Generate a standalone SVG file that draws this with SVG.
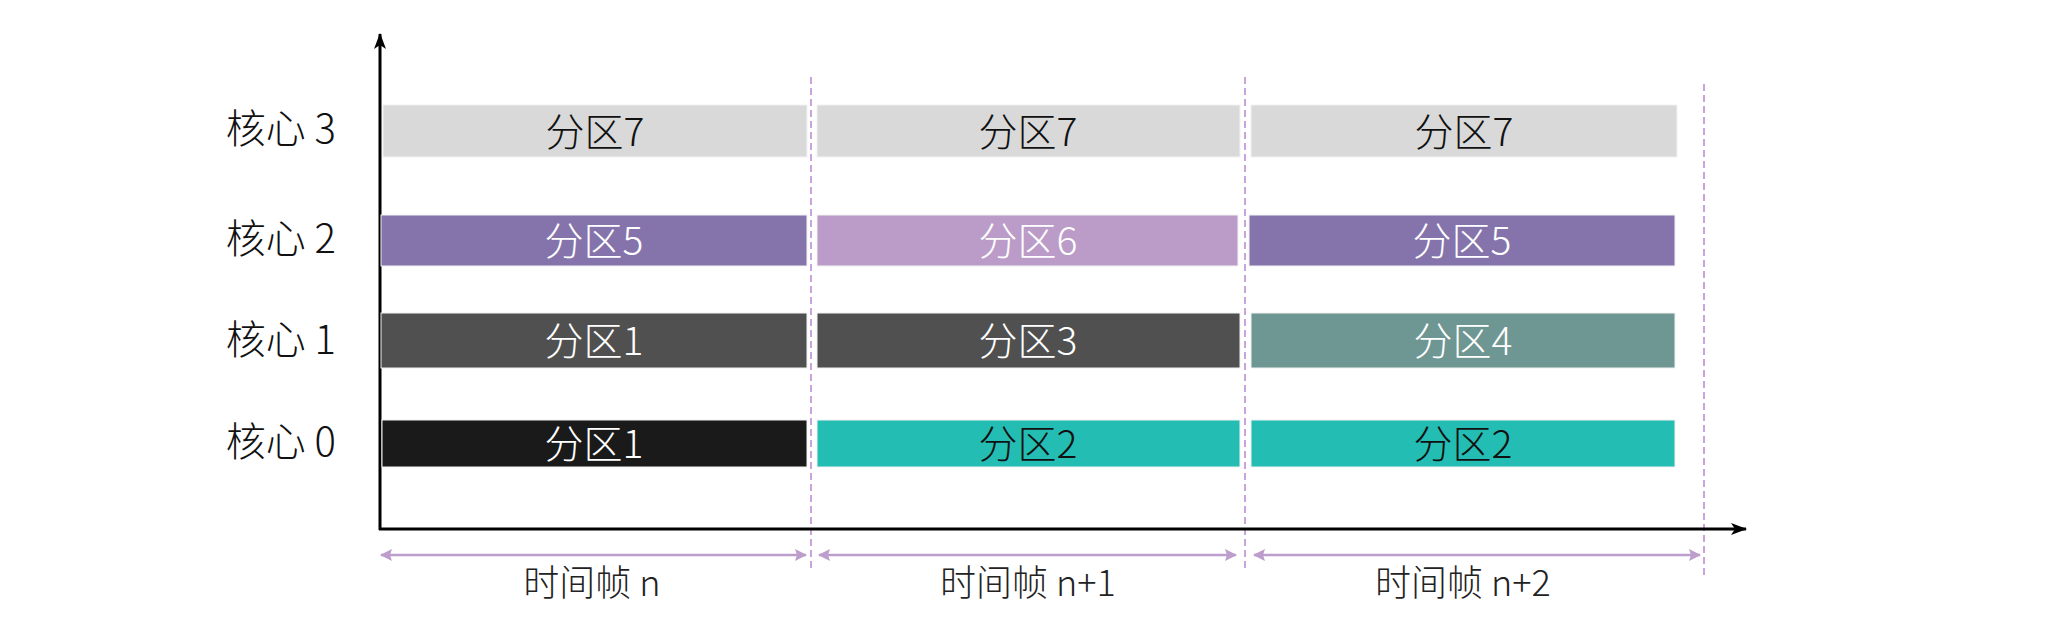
<svg xmlns="http://www.w3.org/2000/svg" width="2062" height="632" viewBox="0 0 2062 632">
<defs>
<style>
text{font-family:"Noto Sans CJK SC","Noto Sans",sans-serif;font-weight:300}
.lbl{font-size:40px;fill:#111;text-anchor:end;dominant-baseline:central}
.bt{font-size:39px;text-anchor:middle;dominant-baseline:central}
.tl{font-size:36px;fill:#222;text-anchor:middle;dominant-baseline:central}
.dk{fill:#fff}.lt{fill:#111}
.bar{stroke:#f2f2f2;stroke-width:1}
.axis{stroke:#000;stroke-width:3;fill:none}
.dash{stroke:#C9A3DB;stroke-width:2;stroke-dasharray:7 4;fill:none}
.span{stroke:#BC9DCB;stroke-width:2.5;fill:none}
</style>
<marker id="ah" viewBox="0 0 16 12" refX="15" refY="6" markerWidth="16" markerHeight="12" markerUnits="userSpaceOnUse" orient="auto">
<path d="M0,0 L16,6 L0,12 L4,6 Z" fill="#000"/>
</marker>
<marker id="pa" viewBox="0 0 12 12" refX="11" refY="6" markerWidth="12" markerHeight="12" markerUnits="userSpaceOnUse" orient="auto-start-reverse">
<path d="M0,0 L12,6 L0,12 L2,6 Z" fill="#BC9DCB"/>
</marker>
</defs>
<rect width="2062" height="632" fill="#fff"/>
<g id="connectors">
<line class="dash" x1="811" y1="77" x2="811" y2="571"/>
<line class="dash" x1="1245" y1="77" x2="1245" y2="571"/>
<line class="dash" x1="1704" y1="84" x2="1704" y2="578"/>
<line class="axis" x1="380" y1="530" x2="380" y2="34" marker-end="url(#ah)"/>
<line class="axis" x1="379" y1="529" x2="1746" y2="529" marker-end="url(#ah)"/>
<line class="span" x1="381" y1="555" x2="806" y2="555" marker-start="url(#pa)" marker-end="url(#pa)"/>
<line class="span" x1="819" y1="555" x2="1236" y2="555" marker-start="url(#pa)" marker-end="url(#pa)"/>
<line class="span" x1="1254" y1="555" x2="1700" y2="555" marker-start="url(#pa)" marker-end="url(#pa)"/>
</g>
<g id="core-labels">
<text class="lbl" x="336" y="126">核心 3</text>
<text class="lbl" x="336" y="236">核心 2</text>
<text class="lbl" x="336" y="337">核心 1</text>
<text class="lbl" x="336" y="439">核心 0</text>
</g>
<g id="core3">
<g id="c3p1"><rect class="bar" x="383" y="105" width="424" height="52" fill="#D9D9D9"/><text class="bt lt" x="595" y="129">分区7</text></g>
<g id="c3p2"><rect class="bar" x="817" y="105" width="423" height="52" fill="#D9D9D9"/><text class="bt lt" x="1028" y="129">分区7</text></g>
<g id="c3p3"><rect class="bar" x="1251" y="105" width="426" height="52" fill="#D9D9D9"/><text class="bt lt" x="1464" y="129">分区7</text></g>
</g>
<g id="core2">
<g id="c2p1"><rect class="bar" x="381" y="215" width="426" height="51" fill="#8574AC"/><text class="bt dk" x="594" y="238">分区5</text></g>
<g id="c2p2"><rect class="bar" x="817" y="215" width="421" height="51" fill="#BB9CC8"/><text class="bt dk" x="1028" y="238">分区6</text></g>
<g id="c2p3"><rect class="bar" x="1249" y="215" width="426" height="51" fill="#8574AC"/><text class="bt dk" x="1462" y="238">分区5</text></g>
</g>
<g id="core1">
<g id="c1p1"><rect class="bar" x="381" y="313" width="426" height="55" fill="#505050"/><text class="bt dk" x="594" y="338">分区1</text></g>
<g id="c1p2"><rect class="bar" x="817" y="313" width="423" height="55" fill="#505050"/><text class="bt dk" x="1028" y="338">分区3</text></g>
<g id="c1p3"><rect class="bar" x="1251" y="313" width="424" height="55" fill="#6E9692"/><text class="bt dk" x="1463" y="338">分区4</text></g>
</g>
<g id="core0">
<g id="c0p1"><rect class="bar" x="382" y="420" width="425" height="47" fill="#1A1A1A"/><text class="bt dk" x="594" y="441">分区1</text></g>
<g id="c0p2"><rect class="bar" x="817" y="420" width="423" height="47" fill="#24BDB3"/><text class="bt lt" x="1028" y="441">分区2</text></g>
<g id="c0p3"><rect class="bar" x="1251" y="420" width="424" height="47" fill="#24BDB3"/><text class="bt lt" x="1463" y="441">分区2</text></g>
</g>
<g id="time-labels">
<text class="tl" x="592" y="580">时间帧 n</text>
<text class="tl" x="1028" y="580">时间帧 n+1</text>
<text class="tl" x="1463" y="580">时间帧 n+2</text>
</g>
</svg>
